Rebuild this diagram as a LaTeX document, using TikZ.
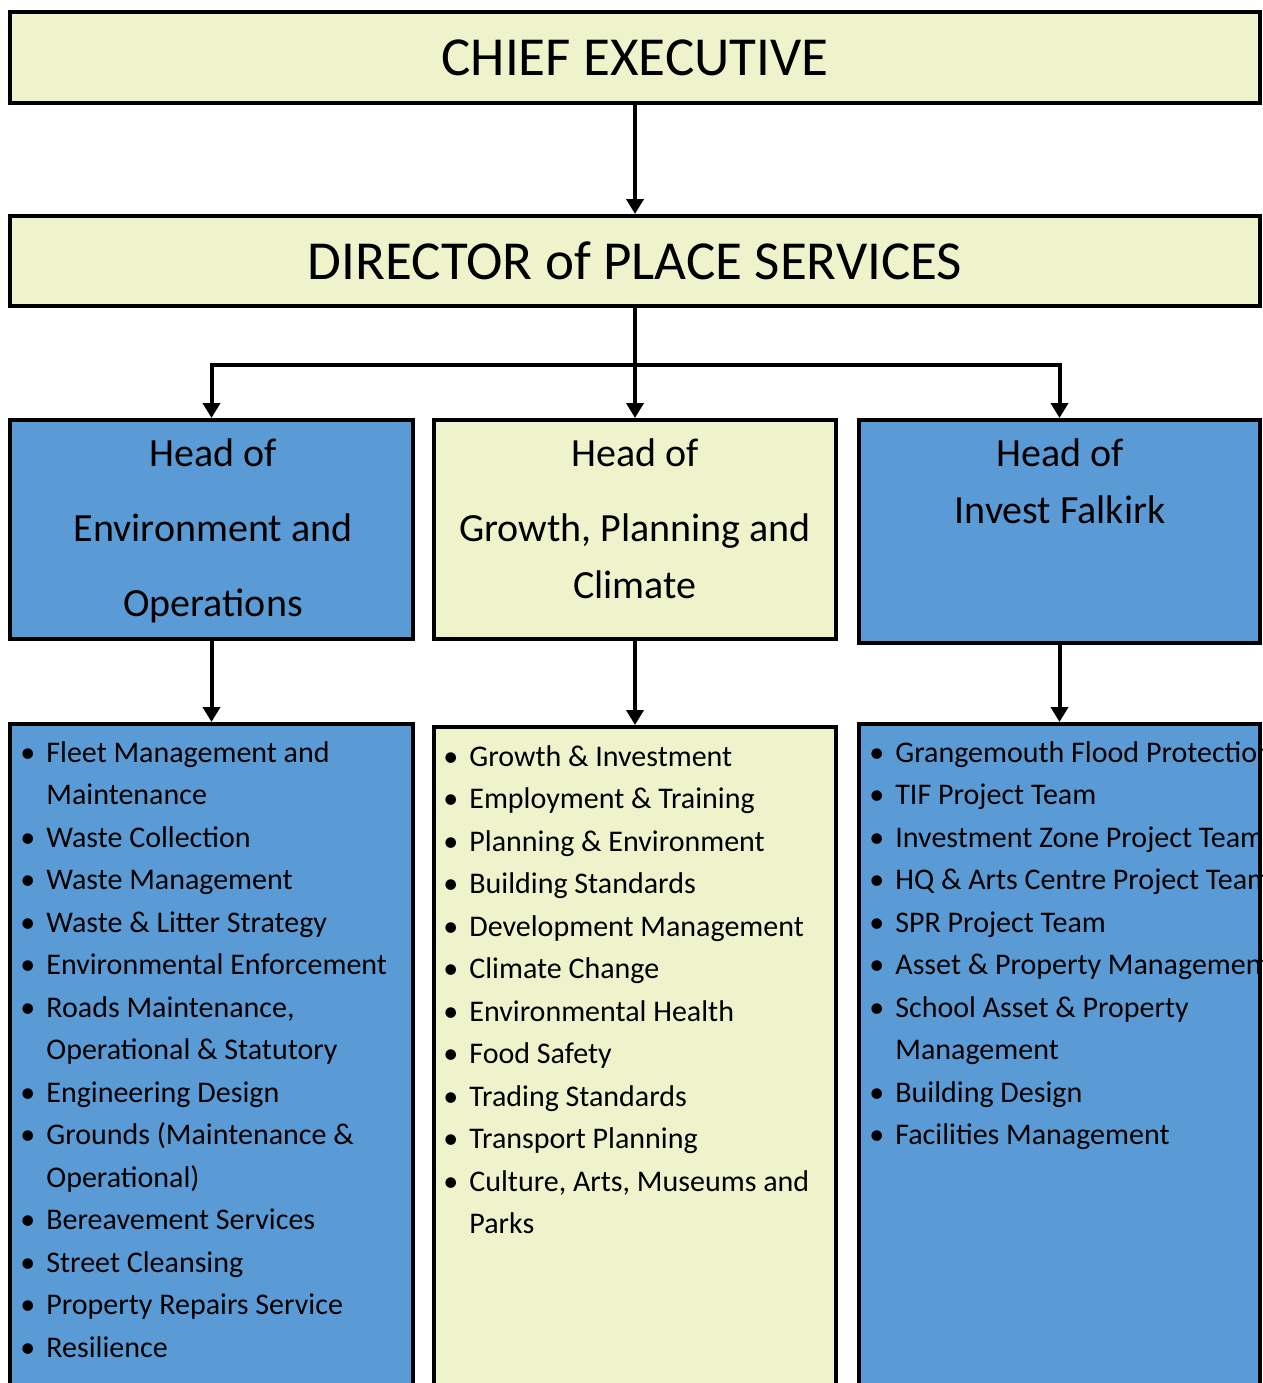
\documentclass[tikz,border=0pt]{standalone}
\usepackage{fontspec}
\setmainfont{Carlito}
\usetikzlibrary{arrows.meta}
\definecolor{pyellow}{RGB}{238,243,204}
\definecolor{pblue}{RGB}{91,155,213}
\newcommand{\bl}{\makebox[13pt][l]{\textbullet}}
\newcommand{\nb}{\hspace*{13pt}}
\begin{document}
\begin{tikzpicture}[x=0.5pt,y=-0.5pt,
        box/.style={draw,line width=2pt,inner sep=0pt},
        topbox/.style={box,fill=pyellow,minimum width=625pt,font=\fontsize{27.5}{32}\selectfont},
        headbox/.style={box,minimum height=109.5pt},
        listbox/.style={box,minimum height=348pt},
        headtext/.style={anchor=north,align=center,inner sep=0pt,font=\fontsize{20}{28.5}\selectfont},
        listtext/.style={anchor=north west,align=left,inner sep=0pt,font=\fontsize{15}{21.25}\selectfont},
        arr/.style={line width=2pt,-{Triangle[width=8.5pt,length=7.5pt]}}]
    \useasboundingbox (0,0) rectangle (1263,1383);
    \clip (0,0) rectangle (1263,1383);
    % top of the chart
    \node[topbox,minimum height=45.5pt] (ce) at (635,57.5) {CHIEF EXECUTIVE};
    \node[topbox,minimum height=45pt] (dir) at (635,261) {DIRECTOR of PLACE SERVICES};
    % heads
    \node[headbox,fill=pblue,minimum width=201.5pt] (hl) at (211.5,529.5) {};
    \node[headbox,fill=pyellow,minimum width=201pt] (hm) at (635,529.5) {};
    \node[headbox,fill=pblue,minimum width=200.5pt,minimum height=111.5pt] (hr) at (1059.5,531.5) {};
    \node[headtext] (thl) at (213,438) {Head of\\[9pt] Environment and\\[9pt] Operations};
    \node[headtext] (thm) at (635,438) {Head of\\[9pt] Growth, Planning and\\ Climate};
    \node[headtext] (thr) at (1060,438) {Head of\\ Invest Falkirk};
    % services
    \node[listbox,fill=pblue,minimum width=201.5pt] (ll) at (211.5,1072) {};
    \node[listbox,fill=pyellow,minimum width=201pt,minimum height=346.5pt] (lm) at (635,1073.5) {};
    \node[listbox,fill=pblue,minimum width=200.5pt] (lr) at (1059.5,1072) {};
    \node[listtext] (tll) at (20,741) {\bl Fleet Management and\\ \nb Maintenance\\
        \bl Waste Collection\\ \bl Waste Management\\ \bl Waste \& Litter Strategy\\
        \bl Environmental Enforcement\\ \bl Roads Maintenance,\\ \nb Operational \& Statutory\\
        \bl Engineering Design\\ \bl Grounds (Maintenance \&\\ \nb Operational)\\
        \bl Bereavement Services\\ \bl Street Cleansing\\ \bl Property Repairs Service\\
        \bl Resilience};
    \node[listtext] (tlm) at (443,745) {\bl Growth \& Investment\\ \bl Employment \& Training\\
        \bl Planning \& Environment\\ \bl Building Standards\\ \bl Development Management\\
        \bl Climate Change\\ \bl Environmental Health\\ \bl Food Safety\\
        \bl Trading Standards\\ \bl Transport Planning\\ \bl Culture, Arts, Museums and\\
        \nb Parks};
    \begin{scope}
        \clip (lr.north west) rectangle (lr.south east);
        \node[listtext] (tlr) at (869,741) {\bl Grangemouth Flood Protection\\ \bl TIF Project Team\\
            \bl Investment Zone Project Team\\ \bl HQ \& Arts Centre Project Team\\
            \bl SPR Project Team\\ \bl Asset \& Property Management\\
            \bl School Asset \& Property\\ \nb Management\\ \bl Building Design\\
            \bl Facilities Management};
    \end{scope}
    % connectors
    \coordinate (br) at (635,365);
    \draw[arr] (ce.south) -- (dir.north);
    \draw[arr] (dir.south) -- (hm.north);
    \draw[arr] (br) -| (hl.north);
    \draw[arr] (br) -| (hr.north);
    \draw[arr] (hl.south) -- (ll.north);
    \draw[arr] (hm.south) -- (lm.north);
    \draw[arr] (hr.south) -- (lr.north);
\end{tikzpicture}
\end{document}
